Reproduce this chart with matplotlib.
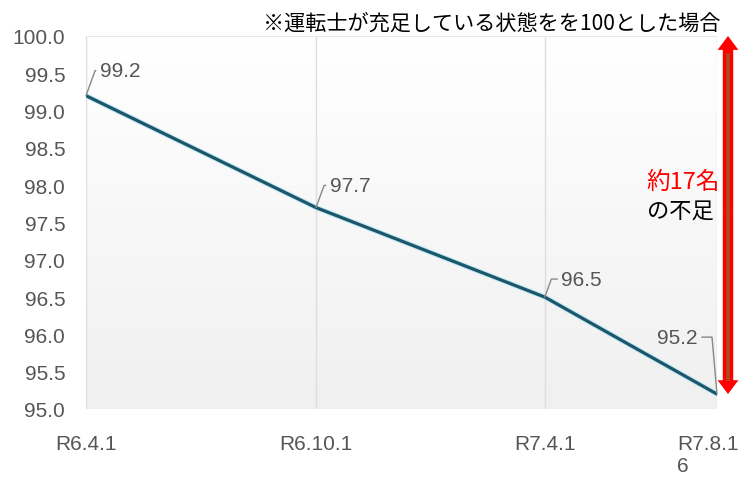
import matplotlib
matplotlib.use('Agg')
import matplotlib.pyplot as plt
import matplotlib.dates as mdates
import matplotlib.patheffects as pe
import matplotlib.transforms as mtransforms
import numpy as np
import pandas as pd

# Data
dates = pd.to_datetime(['2024-04-01', '2024-10-01', '2025-04-01', '2025-08-16'])
tick_labels = ['R6.4.1', 'R6.10.1', 'R7.4.1', 'R7.8.16']
values = [99.2, 97.7, 96.5, 95.2]
note = '※運転士が充足している状態をを100とした場合'
shortage_top = '約17名'
shortage_bottom = 'の不足'

jp_font = ['Noto Sans CJK JP', 'DejaVu Sans']
num_font = ['Liberation Sans', 'DejaVu Sans']

fig = plt.figure(figsize=(7.46, 4.81), dpi=100)
ax = fig.add_axes([86 / 746, 71 / 481, 631 / 746, 373 / 481])

x = mdates.date2num(dates)
ax.set_xlim(x[0], x[-1])
ax.set_ylim(95, 100)

# Gradient background (white at top -> light grey at bottom)
grad = np.linspace(0, 1, 256).reshape(-1, 1)
ax.imshow(grad, extent=[0, 1, 0, 1], transform=ax.transAxes, aspect='auto',
          cmap=matplotlib.colors.LinearSegmentedColormap.from_list('bg', ['#ffffff', '#f0f0f0']),
          origin='upper', zorder=0)

# Grid lines
for xi in x:
    ax.axvline(xi, color='#dedede', lw=1, zorder=1)
ax.axhline(100, color='#e3e3e3', lw=1.2, zorder=1)

# Main line
ax.plot(x, values, color='#1d566a', lw=2.3, zorder=3, solid_capstyle='round',
        path_effects=[pe.Stroke(linewidth=3.8, foreground='#bfe8f2'), pe.Normal()])

# Data labels with leader lines
offsets = [(10, 18, 'left'), (10, 16, 'left'), (12, 13, 'left'), (-14, 41, 'right')]
for xi, v, (dx, dy, ha) in zip(x, values, offsets):
    angleB = 70 if ha == 'left' else 95
    ax.annotate(f'{v:.1f}', xy=(xi, v), xytext=(dx, dy), textcoords='offset points',
                ha=ha, va='center', fontsize=15, color='#555555', family=num_font,
                arrowprops=dict(arrowstyle='-', color='#888888', lw=1,
                                shrinkA=1, shrinkB=0,
                                relpos=(0, 0.5) if ha == 'left' else (1, 0.5),
                                connectionstyle=f'angle,angleA=0,angleB={angleB},rad=0'),
                zorder=4, annotation_clip=False)

# Axes styling
for s in ax.spines.values():
    s.set_visible(False)
ax.set_yticks(np.arange(95, 100.01, 0.5))
ax.set_yticklabels([f'{t:.1f}' for t in np.arange(95, 100.01, 0.5)])
ax.set_xticks(x)
# last label wraps at the right edge, as in the original
shown = tick_labels[:-1] + [tick_labels[-1][:6] + '\n' + tick_labels[-1][6:]]
ax.set_xticklabels(shown, multialignment='left')
ax.tick_params(axis='y', length=0, pad=15, labelsize=15, labelcolor='#555555')
ax.tick_params(axis='x', length=0, pad=18, labelsize=15, labelcolor='#555555')
for lab in ax.get_xticklabels() + ax.get_yticklabels():
    lab.set_family(num_font)
# nudge the last x label left so it stays inside the figure
last = ax.get_xticklabels()[-1]
last.set_transform(last.get_transform() + mtransforms.ScaledTranslation(-9 / 100, 0, fig.dpi_scale_trans))

# Note at top
fig.text(720 / 746, 1 - 24 / 481, note, ha='right', va='center', fontsize=15.2,
         family=jp_font, color='black')

# Red double arrow showing shortage
trans = mtransforms.blended_transform_factory(ax.transAxes, ax.transData)
ax_x = 1 + 11 / 631
mid = (100 + values[-1]) / 2
for end in (100, values[-1]):
    ax.annotate('', xy=(ax_x, end), xytext=(ax_x, mid), xycoords=trans, textcoords=trans,
                arrowprops=dict(arrowstyle='simple,head_length=1.0,head_width=1.5,tail_width=0.75',
                                mutation_scale=10, color='#ff0000', lw=0, shrinkA=0, shrinkB=0),
                annotation_clip=False, zorder=5)
ax.plot([ax_x, ax_x], [99.75, values[-1] + 0.2], transform=trans, color='#b5451b',
        lw=2.8, clip_on=False, zorder=6)

fig.text(683 / 746, 1 - 182 / 481, shortage_top, ha='center', va='center', fontsize=17,
         family=jp_font, color='#ff0000')
fig.text(680 / 746, 1 - 211 / 481, shortage_bottom, ha='center', va='center', fontsize=16,
         family=jp_font, color='black')

fig.savefig('out.png', dpi=100)
